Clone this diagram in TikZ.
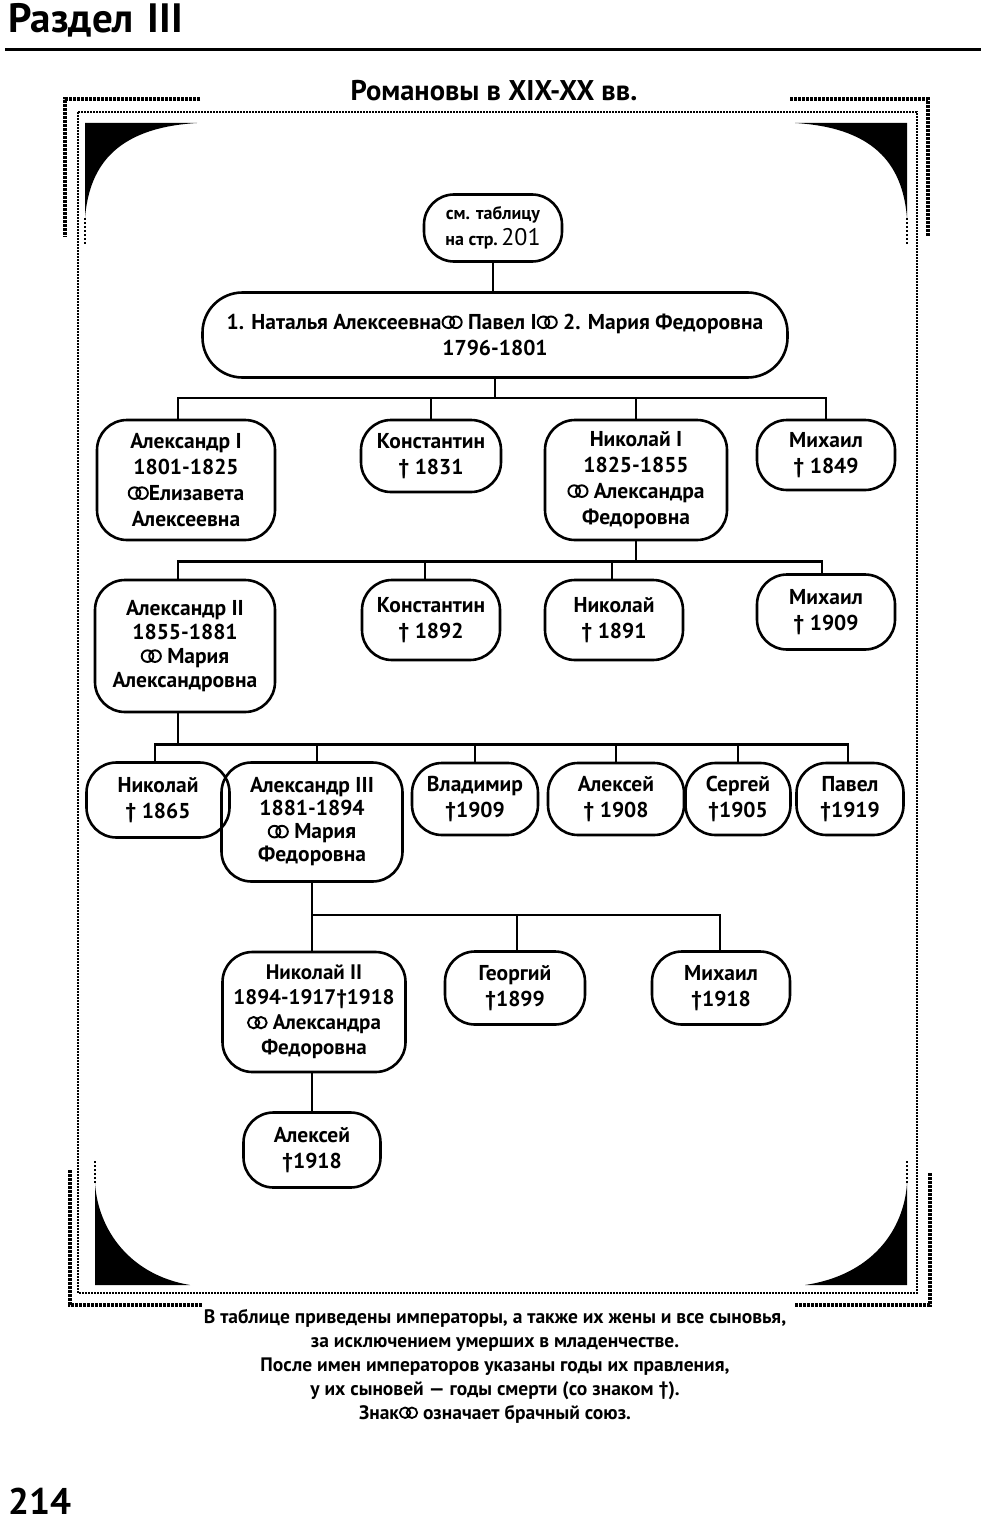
\documentclass[tikz,border=0pt]{standalone}
\usepackage{fontspec}
\setmainfont{PT Sans}
\newcommand\marr{\tikz[baseline=0pt]{\draw[line width=0.09em] (0.27em,0.34em) circle (0.27em) (0.62em,0.34em) circle (0.27em);}}
\begin{document}
\begin{tikzpicture}[x=1pt,y=-1pt,
  fam/.style={draw, line width=2.6pt, rounded corners=30pt, align=center, inner sep=0pt,
    font=\bfseries\fontsize{21.5}{26}\selectfont},
  conn/.style={line width=2.6pt},
  frm/.style={line width=2.5pt, dash pattern=on 2pt off 1pt},
  frmo/.style={line width=4pt, dash pattern=on 3pt off 1pt},
  thin/.style={line width=1.5pt, dash pattern=on 2pt off 2pt},
  capt/.style={font=\bfseries\fontsize{19.5}{24}\selectfont, align=center, inner sep=0pt}]
\useasboundingbox (0,0) rectangle (987,1525);

% header
\node[anchor=base west, inner sep=0pt, font=\bfseries\fontsize{41}{44}\selectfont] (hdr) at (8,33) {Раздел\hspace{0.35em}III};
\draw[line width=3pt] (5,50) -- (981,50);
\node[anchor=base, inner sep=0pt, font=\bfseries\fontsize{28.5}{30}\selectfont] (title) at (494,101) {Романовы в XIX-XX вв.};

% frame
\draw[frm] (78,112) rectangle (917,1293);
\draw[frmo] (200,99) -- (65,99) -- (65,237);
\draw[frmo] (790,99) -- (928,99) -- (928,237);
\draw[frmo] (70,1170) -- (70,1305) -- (203,1305);
\draw[frmo] (795,1305) -- (930,1305) -- (930,1172);
\fill (85,123) -- (197,123) .. controls (112,128) and (89,170) .. (85,218) -- cycle;
\fill (907,123) -- (795,123) .. controls (880,128) and (903,170) .. (907,218) -- cycle;
\fill (95,1285) -- (95,1183) .. controls (98,1230) and (130,1275) .. (190,1285) -- cycle;
\fill (907,1285) -- (907,1183) .. controls (904,1230) and (872,1275) .. (805,1285) -- cycle;
\draw[thin] (85,218) -- (85,245);
\draw[thin] (907,218) -- (907,245);
\draw[thin] (95,1183) -- (95,1160);
\draw[thin] (907,1183) -- (907,1160);

% nodes
\node[fam, minimum width=138pt, minimum height=67pt] (top) at (493,228)
  {{\fontsize{18}{24}\selectfont см. таблицу}\\{\fontsize{18}{24}\selectfont на стр.}\,{\mdseries\fontsize{24}{24}\selectfont 201}};
\node[fam, rounded corners=40pt, minimum width=585pt, minimum height=85pt] (pavel) at (495,335)
  {1. Наталья Алексеевна\marr{} Павел I\marr{} 2. Мария Федоровна\\1796-1801};

\node[fam, minimum width=178pt, minimum height=120pt] (a1) at (186,480) {Александр I\\1801-1825\\\marr Елизавета\\Алексеевна};
\node[fam, minimum width=140pt, minimum height=72pt] (k1) at (431,456) {Константин\\† 1831};
\node[fam, minimum width=182pt, minimum height=120pt] (n1) at (636,480) {Николай I\\1825-1855\\\marr{} Александра\\Федоровна};
\node[fam, minimum width=138pt, minimum height=70pt] (m1) at (826,455) {Михаил\\† 1849};

\node[fam, minimum width=180pt, minimum height=132pt, font=\bfseries\fontsize{21.5}{24}\selectfont] (a2) at (185,646) {Александр II\\1855-1881\\\marr{} Мария\\Александровна};
\node[fam, minimum width=138pt, minimum height=80pt] (k2) at (431,620) {Константин\\† 1892};
\node[fam, minimum width=138pt, minimum height=80pt] (n2) at (614,620) {Николай\\† 1891};
\node[fam, minimum width=138pt, minimum height=75pt] (m2) at (826,612) {Михаил\\† 1909};

\node[fam, minimum width=143pt, minimum height=75pt] (n3) at (158,800) {Николай\\† 1865};
\node[fam, minimum width=181pt, minimum height=119pt, font=\bfseries\fontsize{21.5}{23}\selectfont] (a3) at (312,822) {Александр III\\1881-1894\\\marr{} Мария\\Федоровна};
\node[fam, minimum width=126pt, minimum height=72pt] (v3) at (475,799) {Владимир\\†1909};
\node[fam, minimum width=136pt, minimum height=72pt] (al3) at (616,799) {Алексей\\† 1908};
\node[fam, minimum width=105pt, minimum height=72pt] (s3) at (738,799) {Сергей\\†1905};
\node[fam, minimum width=107pt, minimum height=72pt] (p3) at (850,799) {Павел\\†1919};

\node[fam, minimum width=183pt, minimum height=120pt, font=\bfseries\fontsize{21}{25}\selectfont] (n4) at (314,1012) {Николай II\\1894-1917†1918\\\marr{} Александра\\Федоровна};
\node[fam, minimum width=140pt, minimum height=73pt] (g4) at (515,988) {Георгий\\†1899};
\node[fam, minimum width=138pt, minimum height=73pt] (m4) at (721,988) {Михаил\\†1918};

\node[fam, minimum width=137pt, minimum height=75pt] (al5) at (312,1150) {Алексей\\†1918};

% connectors
\draw[conn] (top.south) -- (top.south |- pavel.north);
\foreach \c/\s in {a1/-8, k1/0, n1/0, m1/0}
  \draw[conn] (pavel.south) -- ++(0,19) -| ([xshift=\s]\c.north);
\foreach \c/\s in {a2/-7, k2/-6, n2/-2, m2/-4}
  \draw[conn] (n1.south) -- ++(0,20) -| ([xshift=\s]\c.north);
\foreach \c/\s in {n3/-3, a3/5, v3/0, al3/0, s3/0, p3/-2}
  \draw[conn] ([xshift=-7]a2.south) -- ++(0,31) -| ([xshift=\s]\c.north);
\foreach \c/\s in {n4/-2, g4/2, m4/-1}
  \draw[conn] (a3.south) -- ++(0,32) -| ([xshift=\s]\c.north);
\draw[conn] ([xshift=-2]n4.south) -- (al5.north);

% caption
\node[capt, anchor=north] (cap) at (495,1309)
  {В таблице приведены императоры, а также их жены и все сыновья,\\
   за исключением умерших в младенчестве.\\
   После имен императоров указаны годы их правления,\\
   у их сыновей — годы смерти (со знаком †).\\
   Знак\marr{} означает брачный союз.};

\node[anchor=base west, inner sep=0pt, font=\bfseries\fontsize{37}{40}\selectfont] (pg) at (8,1514) {214};
\end{tikzpicture}
\end{document}
